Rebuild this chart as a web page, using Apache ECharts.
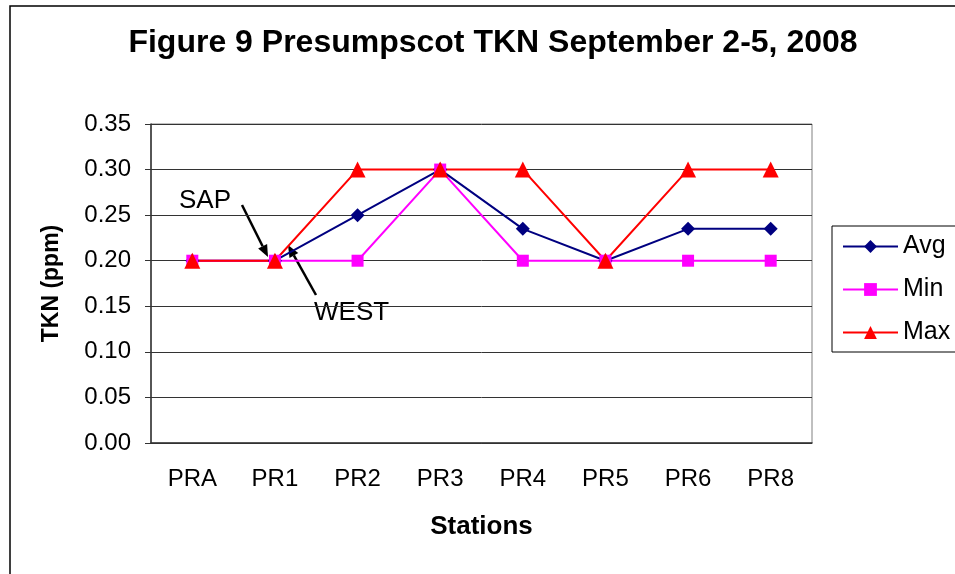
<!DOCTYPE html>
<html>
<head>
<meta charset="utf-8">
<script src="https://cdn.jsdelivr.net/npm/echarts@6/dist/echarts.min.js"></script>
<style>
html,body{margin:0;padding:0;background:#fff;}
#chart{width:955px;height:574px;}
</style>
</head>
<body>
<div id="chart"></div>
<script>
var stations = ['PRA','PR1','PR2','PR3','PR4','PR5','PR6','PR8'];
var avgVals = [0.20, 0.20, 0.25, 0.30, 0.235, 0.20, 0.235, 0.235];
var minVals = [0.20, 0.20, 0.20, 0.30, 0.20, 0.20, 0.20, 0.20];
var maxVals = [0.20, 0.20, 0.30, 0.30, 0.30, 0.20, 0.30, 0.30];

var font = '"Liberation Sans", Arial, sans-serif';

var myChart = echarts.init(document.getElementById('chart'));

function arrowLine(x1, y1, x2, y2) {
    // straight line plus a small filled head at (x2,y2)
    var ang = Math.atan2(y2 - y1, x2 - x1);
    var len = 12, w = 5;
    var bx = x2 - len * Math.cos(ang), by = y2 - len * Math.sin(ang);
    var px = -Math.sin(ang) * w, py = Math.cos(ang) * w;
    return [{
        type: 'line',
        shape: {x1: x1, y1: y1, x2: bx, y2: by},
        style: {stroke: '#000', lineWidth: 2.5}
    }, {
        type: 'polygon',
        shape: {points: [[x2, y2], [bx + px, by + py], [bx - px, by - py]]},
        style: {fill: '#000'}
    }];
}

var option = {
    animation: false,
    title: {
        text: 'Figure 9 Presumpscot TKN September 2-5, 2008',
        left: 488,
        textAlign: 'center',
        top: 22,
        textStyle: {fontFamily: font, fontSize: 32, fontWeight: 'bold', color: '#000'}
    },
    legend: {
        orient: 'vertical',
        left: 832,
        top: 226,
        data: ['Avg', 'Min', 'Max'],
        itemWidth: 55,
        itemHeight: 16,
        itemGap: 18,
        padding: [8, 30, 7, 10],
        borderColor: '#000',
        borderWidth: 1,
        textStyle: {fontFamily: font, fontSize: 25, color: '#000'}
    },
    grid: {
        left: 151, right: 143, top: 124, bottom: 131,
        show: true, borderColor: '#808080', borderWidth: 1
    },
    xAxis: {
        type: 'category',
        data: stations,
        name: 'Stations',
        nameLocation: 'middle',
        nameGap: 71,
        nameTextStyle: {fontFamily: font, fontSize: 26, fontWeight: 'bold', color: '#000'},
        axisLine: {lineStyle: {color: '#333', width: 1.5}},
        axisTick: {length: 6, lineStyle: {color: '#333'}},
        axisLabel: {fontFamily: font, fontSize: 24, color: '#000', margin: 24}
    },
    yAxis: {
        type: 'value',
        min: 0, max: 0.35, interval: 0.05,
        name: 'TKN (ppm)',
        nameLocation: 'middle',
        nameGap: 88,
        nameTextStyle: {fontFamily: font, fontSize: 23, fontWeight: 'bold', color: '#000'},
        axisLine: {show: true, lineStyle: {color: '#333', width: 1.5}},
        axisTick: {show: true, length: 6, lineStyle: {color: '#333'}},
        axisLabel: {fontFamily: font, fontSize: 24, color: '#000', margin: 20,
            formatter: function (v) { return v.toFixed(2); }},
        splitLine: {lineStyle: {color: '#333', width: 1}}
    },
    series: [{
        name: 'Avg', type: 'line', data: avgVals,
        symbol: 'diamond', symbolSize: 14,
        lineStyle: {color: '#000080', width: 2},
        itemStyle: {color: '#000080'}
    }, {
        name: 'Min', type: 'line', data: minVals,
        symbol: 'rect', symbolSize: 12,
        lineStyle: {color: '#FF00FF', width: 2},
        itemStyle: {color: '#FF00FF'}
    }, {
        name: 'Max', type: 'line', data: maxVals,
        symbol: 'triangle', symbolSize: 16,
        lineStyle: {color: '#FF0000', width: 2},
        itemStyle: {color: '#FF0000'}
    }],
    graphic: [{
        type: 'rect',
        shape: {x: 10, y: 6, width: 980, height: 600},
        style: {fill: 'none', stroke: '#000', lineWidth: 1.5},
        silent: true
    }, {
        type: 'text', left: 179, top: 188,
        style: {text: 'SAP', fontFamily: font, fontSize: 26, fill: '#000'}
    }, {
        type: 'text', left: 314, top: 300,
        style: {text: 'WEST', fontFamily: font, fontSize: 26, fill: '#000'}
    }].concat(arrowLine(242, 205, 268, 257), arrowLine(316, 295, 288, 245))
};

myChart.setOption(option);
</script>
</body>
</html>
